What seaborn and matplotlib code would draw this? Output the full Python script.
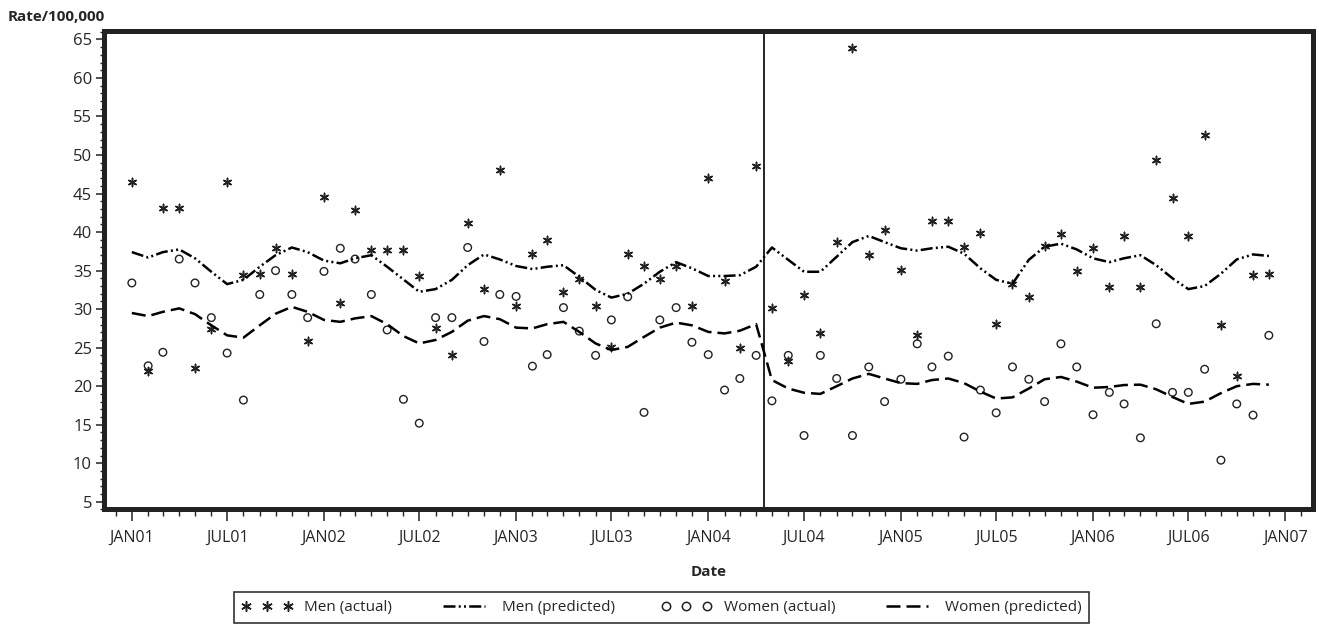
"""Monthly rates with predicted trend, men vs women."""

import matplotlib
matplotlib.use('Agg')
import matplotlib.pyplot as plt
import matplotlib.dates as mdates
from matplotlib.lines import Line2D
from matplotlib.ticker import MultipleLocator, FuncFormatter
import pandas as pd
import seaborn as sns

# Data (one value per month Jan 2001 - Dec 2006)
months = pd.date_range('2001-01-01', '2006-12-01', freq='MS')

men_actual = [46.5, 22.0, 43.1, 43.1, 22.4, 27.4, 46.5, 34.4, 34.5, 37.9,
              34.5, 25.9, 44.6, 30.8, 42.9, 37.7, 37.7, 37.7, 34.3, 27.5,
              24.0, 41.2, 32.6, 48.0, 30.4, 37.1, 39.0, 32.2, 33.9, 30.4,
              25.1, 37.2, 35.6, 33.9, 35.6, 30.4, 47.0, 33.6, 25.0, 48.6,
              30.2, 23.3, 31.9, 26.9, 38.7, 63.9, 37.0, 40.3, 35.1, 26.6,
              41.5, 41.5, 38.1, 39.9, 28.1, 33.3, 31.6, 38.2, 39.8, 34.9,
              37.9, 32.9, 39.5, 32.9, 49.3, 44.4, 39.5, 52.6, 27.9, 21.3,
              34.4, 34.5]

women_actual = [33.4, 22.65, 24.4, 36.5, 33.4, 28.9, 24.3, 18.2, 31.9, 35.0,
                31.9, 28.9, 34.9, 37.9, 36.5, 31.9, 27.3, 18.3, 15.2, 28.9,
                28.9, 38.0, 25.8, 31.9, 31.65, 22.6, 24.1, 30.2, 27.15, 24.0,
                28.6, 31.6, 16.6, 28.6, 30.2, 25.7, 24.1, 19.5, 21.0, 24.0,
                18.1, 24.0, 13.6, 24.0, 21.0, 13.6, 22.5, 18.0, 20.9, 25.5,
                22.5, 23.9, 13.4, 19.5, 16.55, 22.5, 20.9, 18.0, 25.5, 22.5,
                16.3, 19.2, 17.7, 13.3, 28.1, 19.2, 19.2, 22.2, 10.4, 17.7,
                16.25, 26.6]

men_pred = [37.4, 36.7, 37.4, 37.75, 36.6, 34.85, 33.25, 33.8, 35.5, 37.0,
            38.0, 37.4, 36.3, 35.95, 36.6, 37.0, 35.5, 33.85, 32.25, 32.6,
            33.8, 35.7, 37.1, 36.45, 35.6, 35.2, 35.5, 35.7, 34.2, 32.5,
            31.5, 32.0, 33.3, 34.85, 36.1, 35.3, 34.3, 34.3, 34.4, 35.5,
            38.0, 36.4, 34.85, 34.85, 36.8, 38.7, 39.5, 38.7, 37.9, 37.6,
            37.9, 38.1, 37.2, 35.3, 33.8, 33.3, 36.4, 38.1, 38.5, 37.75,
            36.6, 36.1, 36.6, 37.0, 35.7, 34.0, 32.6, 33.0, 34.6, 36.45,
            37.1, 36.9]

women_pred = [29.5, 29.1, 29.65, 30.1, 29.35, 27.9, 26.6, 26.3, 27.9, 29.4,
              30.3, 29.65, 28.6, 28.35, 28.8, 29.1, 28.05, 26.5, 25.55, 26.0,
              27.05, 28.5, 29.1, 28.7, 27.6, 27.5, 28.05, 28.35, 27.05, 25.55,
              24.7, 25.1, 26.4, 27.6, 28.25, 27.9, 27.05, 26.85, 27.2, 28.05,
              20.8, 19.7, 19.15, 19.0, 20.0, 21.0, 21.6, 21.0, 20.4, 20.3,
              20.8, 21.0, 20.4, 19.3, 18.4, 18.55, 19.7, 20.9, 21.2, 20.6,
              19.8, 19.9, 20.15, 20.2, 19.6, 18.6, 17.7, 18.0, 19.1, 20.0,
              20.3, 20.2]

intervention_date = pd.Timestamp('2004-04-15')

df = pd.DataFrame({
    'date': months,
    'men_actual': men_actual,
    'women_actual': women_actual,
    'men_pred': men_pred,
    'women_pred': women_pred,
})

sns.set_style('white')
plt.rcParams['font.family'] = ['Open Sans', 'DejaVu Sans']

fig = plt.figure(figsize=(13.19, 6.24), dpi=100)
ax = fig.add_axes([0.0792, 0.1835, 0.9163, 0.7675])

ink = '#222222'
asterisk = (6, 2, 0)
men_dash = (0, (4.8, 1.3, 0.8, 1.3, 0.8, 1.3))
women_dash = (0, (5.6, 2.4))

sns.scatterplot(data=df, x='date', y='men_actual', ax=ax, marker=asterisk,
                s=36, color=ink, linewidth=1.1, legend=False)
sns.lineplot(data=df, x='date', y='men_pred', ax=ax, color='black', lw=1.8,
             linestyle=men_dash, legend=False)
sns.scatterplot(data=df, x='date', y='women_actual', ax=ax, marker='o',
                s=30, facecolor='none', edgecolor=ink, linewidth=1.0,
                legend=False)
sns.lineplot(data=df, x='date', y='women_pred', ax=ax, color='black', lw=1.8,
             linestyle=women_dash, legend=False)

ax.axvline(intervention_date, color='black', lw=1.2)

# Axes limits and ticks
ax.set_ylim(4.0, 66.15)
ax.set_xlim(pd.Timestamp('2000-11-10'), pd.Timestamp('2007-02-23'))
ax.yaxis.set_major_locator(MultipleLocator(5))
ax.yaxis.set_minor_locator(MultipleLocator(1))
ax.xaxis.set_major_locator(mdates.MonthLocator(bymonth=[1, 7]))
ax.xaxis.set_minor_locator(mdates.MonthLocator())
ax.xaxis.set_major_formatter(
    FuncFormatter(lambda v, pos: mdates.num2date(v).strftime('%b%y').upper()))

ax.tick_params(axis='y', which='major', length=6, width=1.1, labelsize=12,
               pad=3, left=True, color=ink)
ax.tick_params(axis='y', which='minor', length=3.2, width=1.0, left=True,
               color=ink)
ax.tick_params(axis='x', which='major', length=8.6, width=1.1, labelsize=11.5,
               pad=6, bottom=True, color=ink)
ax.tick_params(axis='x', which='minor', length=5, width=1.0, bottom=True,
               color=ink)

for spine in ax.spines.values():
    spine.set_visible(True)
    spine.set_linewidth(3.6)
    spine.set_color(ink)

ax.set_xlabel('Date', fontsize=11, fontweight='bold', labelpad=14)
ax.set_ylabel('')
fig.text(0.006, 0.973, 'Rate/100,000', fontsize=11, fontweight='bold',
         ha='left', va='center')

# Legend
handles = [
    Line2D([], [], linestyle='none', marker=asterisk, markersize=7.5,
           markeredgewidth=1.1, color=ink),
    Line2D([], [], color='black', lw=1.8, linestyle=men_dash),
    Line2D([], [], linestyle='none', marker='o', markersize=6,
           markerfacecolor='none', markeredgecolor=ink, markeredgewidth=1.1),
    Line2D([], [], color='black', lw=1.8, linestyle=women_dash),
]
labels = ['Men (actual)', 'Men (predicted)', 'Women (actual)',
          'Women (predicted)']
leg = ax.legend(handles, labels, ncol=4, loc='lower center',
                bbox_to_anchor=(0.5015, 0.002), bbox_transform=fig.transFigure,
                frameon=True, fancybox=False, edgecolor='black', fontsize=11,
                numpoints=3, handlelength=3.3, handletextpad=0.8,
                columnspacing=3.05, borderpad=0.5, borderaxespad=0)
leg.get_frame().set_linewidth(1.2)

fig.savefig('out.png', dpi=100)
plt.close(fig)
